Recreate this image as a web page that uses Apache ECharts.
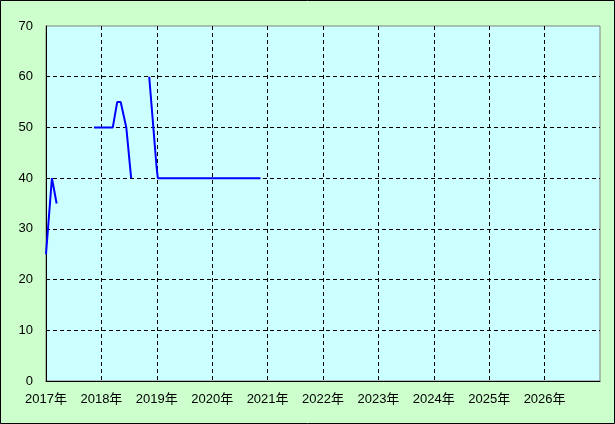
<!DOCTYPE html>
<html>
<head>
<meta charset="utf-8">
<script src="https://cdn.jsdelivr.net/npm/echarts@6/dist/echarts.min.js"></script>
<style>
html,body{margin:0;padding:0;background:#ccffcc;}
#c{width:615px;height:424px;}
</style>
</head>
<body>
<div id="c"></div>
<script>
// Data (dates and values); null breaks the line
const dates = [
  '2017-01-01','2017-01-09','2017-02-09','2017-02-18','2017-03-12', null,
  '2017-11-13','2018-03-17','2018-04-15','2018-05-08','2018-06-14','2018-07-16', null,
  '2018-11-12','2018-12-31','2019-01-08','2020-11-15'
];
const values = [
  25, 25, 40, 40, 35, null,
  50, 50, 55, 55, 50, 40, null,
  60, 42, 40, 40
];
const xTicks = [2017, 2018, 2019, 2020, 2021, 2022, 2023, 2024, 2025, 2026, 2027];
const yTicks = [0, 10, 20, 30, 40, 50, 60, 70];

function toYear(s) {
  const p = s.split('-').map(Number);
  const t = Date.UTC(p[0], p[1] - 1, p[2]);
  const a = Date.UTC(p[0], 0, 1), b = Date.UTC(p[0] + 1, 0, 1);
  return p[0] + (t - a) / (b - a);
}
const seriesData = dates.map((d, i) => d === null ? [null, null] : [toYear(d), values[i]]);

const chart = echarts.init(document.getElementById('c'), null, {renderer: 'canvas'});
const font = "'Liberation Sans', Arial, 'Noto Sans CJK JP', sans-serif";
chart.setOption({
  animation: false,
  backgroundColor: '#ccffcc',
  grid: {
    left: 46, top: 26, right: 15, bottom: 43,
    show: true, backgroundColor: '#ccffff', borderColor: '#808080', borderWidth: 1
  },
  xAxis: {
    type: 'value',
    min: xTicks[0], max: xTicks[xTicks.length - 1], interval: 1,
    axisLine: {show: true, lineStyle: {color: '#000', width: 1}},
    axisTick: {show: false},
    axisLabel: {
      color: '#000', fontSize: 13, fontFamily: font, margin: 12,
      formatter: v => (v === xTicks[xTicks.length - 1] ? '' : v + '年')
    },
    splitLine: {show: true, showMaxLine: false, showMinLine: false,
      lineStyle: {color: '#000', type: [4, 3], width: 1}}
  },
  yAxis: {
    type: 'value',
    min: yTicks[0], max: yTicks[yTicks.length - 1], interval: 10,
    axisLine: {show: true, lineStyle: {color: '#000', width: 1}},
    axisTick: {show: false},
    axisLabel: {color: '#000', fontSize: 13, fontFamily: font, margin: 13},
    splitLine: {show: true, showMaxLine: false, showMinLine: false,
      lineStyle: {color: '#000', type: [4, 3], width: 1}}
  },
  graphic: [{
    type: 'rect', silent: true, z: 100,
    shape: {x: 0.5, y: 0.5, width: 614, height: 423},
    style: {fill: 'none', stroke: '#000', lineWidth: 1}
  }],
  series: [{
    type: 'line',
    data: seriesData,
    showSymbol: false,
    connectNulls: false,
    lineStyle: {color: '#0000ff', width: 2},
    itemStyle: {color: '#0000ff'}
  }]
});
</script>
</body>
</html>
